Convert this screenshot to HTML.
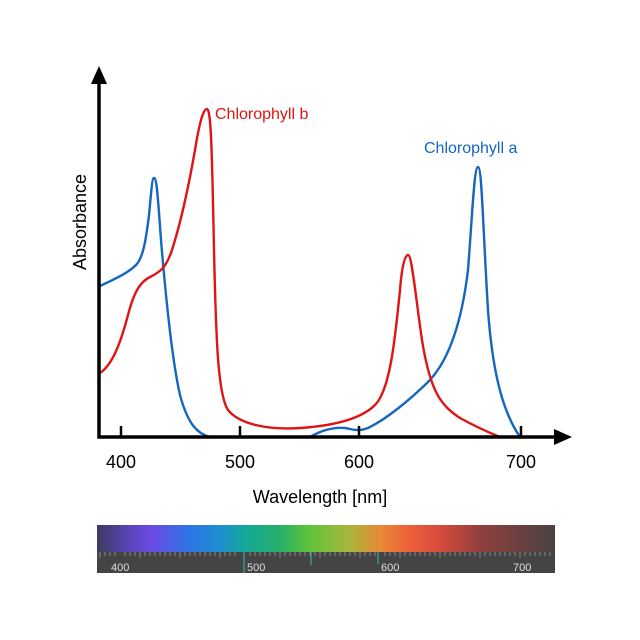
<!DOCTYPE html>
<html><head><style>body{margin:0;background:#fff}svg{display:block}</style></head><body>
<svg width="640" height="640" viewBox="0 0 640 640" xmlns="http://www.w3.org/2000/svg" font-family="Liberation Sans, sans-serif">
<defs>
<linearGradient id="sp" x1="0" x2="1">
<stop offset="0" stop-color="#3c3a5e"/><stop offset="0.07" stop-color="#5a44b8"/><stop offset="0.12" stop-color="#6a4ae6"/><stop offset="0.2" stop-color="#2f74e6"/><stop offset="0.27" stop-color="#1f8fd0"/><stop offset="0.32" stop-color="#14a89a"/><stop offset="0.4" stop-color="#26b06a"/><stop offset="0.46" stop-color="#5cc43a"/><stop offset="0.55" stop-color="#a8b63a"/><stop offset="0.62" stop-color="#e88a36"/><stop offset="0.68" stop-color="#ee6038"/><stop offset="0.75" stop-color="#d84a3c"/><stop offset="0.84" stop-color="#8e3f3d"/><stop offset="1" stop-color="#4a4242"/>
</linearGradient>
</defs>
<g fill="none" stroke-width="2.4" stroke-linejoin="round">
<path stroke="#1466c0" d="M100,286 C115,279 128,273 136,265 C143,258 146,240 149,215 C151,195 152,178 154,178 C157,178 158,200 161,240 C166,300 172,360 180,395 C188,425 198,434 210,437"/>
<path stroke="#1466c0" d="M310,437 C322,430 333,427 345,428 C352,429 357,432 368,428 C385,420 410,400 430,380 C450,358 462,320 468,270 C472,220 474,167 478,167 C482,167 483,230 488,310 C493,380 505,415 520,437"/>
<path stroke="#e01414" d="M100,373 C112,365 120,345 128,315 C134,292 140,282 150,277 C160,272 166,268 172,250 C180,225 188,190 195,150 C199,125 203,109 207,109 C211,109 212,150 214,250 C216,340 218,395 228,410 C240,425 270,430 300,428 C330,426 360,420 375,405 C390,390 395,340 400,290 C402,265 405,255 408,255 C412,255 416,300 422,340 C430,390 440,405 460,418 C478,428 490,433 500,437"/>
</g>
<g stroke="#000" stroke-width="3.5" fill="none">
<path d="M99,80 V437 H558"/>
<path d="M121,426 V437 M240,426 V437 M359,426 V437 M521,426 V437" stroke-width="2.5"/>
</g>
<path d="M99,66 L91,84 L107,84 Z" fill="#000"/>
<path d="M572,437 L554,429 L554,445 Z" fill="#000"/>
<g font-size="18" fill="#000" text-anchor="middle">
<text x="121" y="468">400</text><text x="240" y="468">500</text><text x="359" y="468">600</text><text x="521" y="468">700</text>
<text x="320" y="503">Wavelength [nm]</text>
<text transform="translate(86,222) rotate(-90)">Absorbance</text>
</g>
<text x="215" y="119" font-size="16" fill="#e01414">Chlorophyll b</text>
<text x="424" y="153" font-size="16" fill="#1466c0">Chlorophyll a</text>
<rect x="97" y="525" width="458" height="48" fill="#444"/>
<rect x="97" y="525" width="458" height="27" fill="url(#sp)"/>
<g stroke="#888" stroke-width="1">
<path d="M100,552 V558 M105,552 V556 M110,552 V556 M115,552 V556 M125,552 V556 M130,552 V556 M135,552 V556 M140,552 V558 M145,552 V556 M150,552 V556 M155,552 V556 M160,552 V556 M165,552 V556 M170,552 V556 M175,552 V556 M180,552 V558 M185,552 V556 M190,552 V556 M195,552 V556 M200,552 V556 M205,552 V556 M210,552 V556 M215,552 V556 M220,552 V558 M225,552 V556 M230,552 V556 M235,552 V556 M250,552 V556 M255,552 V556 M260,552 V556 M265,552 V556 M270,552 V556 M275,552 V556 M280,552 V558 M285,552 V556 M290,552 V556 M295,552 V556 M300,552 V556 M305,552 V556 M310,552 V556 M315,552 V556 M320,552 V558 M325,552 V556 M330,552 V556 M335,552 V556 M340,552 V556 M345,552 V556 M350,552 V556 M355,552 V556 M360,552 V558 M365,552 V556 M370,552 V556 M375,552 V556 M385,552 V556 M390,552 V556 M395,552 V556 M400,552 V558 M405,552 V556 M410,552 V556 M415,552 V556 M420,552 V556 M425,552 V556 M430,552 V556 M435,552 V556 M440,552 V558 M445,552 V556 M450,552 V556 M455,552 V556 M460,552 V556 M465,552 V556 M470,552 V556 M475,552 V556 M480,552 V558 M485,552 V556 M490,552 V556 M495,552 V556 M500,552 V556 M505,552 V556 M510,552 V556 M515,552 V556 M520,552 V558 M525,552 V556 M530,552 V556 M535,552 V556 M540,552 V556 M545,552 V556 M550,552 V556"/>
<path d="M244,552 V573 M378,552 V564 M311,552 V565" stroke="#3aa" stroke-width="1.2"/>
</g>
<g font-size="11" fill="#ddd"><text x="111" y="571">400</text><text x="247" y="571">500</text><text x="381" y="571">600</text><text x="513" y="571">700</text></g>
</svg>
</body></html>
